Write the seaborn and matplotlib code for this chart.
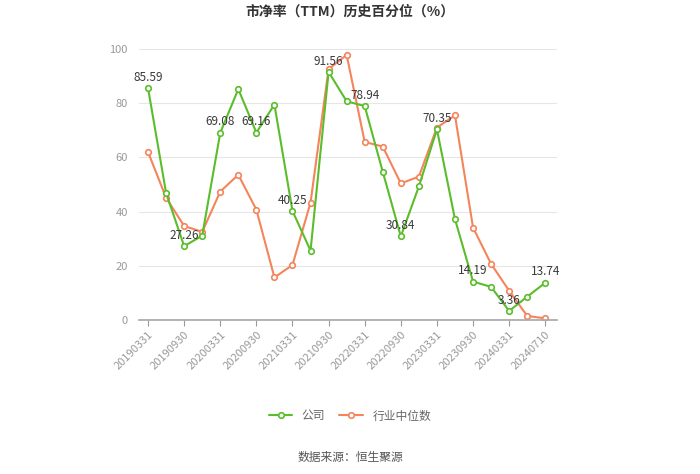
import numpy as np
import pandas as pd
import seaborn as sns
import matplotlib.pyplot as plt

dates = ["20190331", "20190630", "20190930", "20191231",
         "20200331", "20200630", "20200930", "20201231",
         "20210331", "20210630", "20210930", "20211231",
         "20220331", "20220630", "20220930", "20221231",
         "20230331", "20230630", "20230930", "20231231",
         "20240331", "20240630", "20240710"]
company = [85.59, 46.9, 27.26, 31.1, 69.08, 85.2, 69.16, 79.5,
           40.25, 25.6, 91.56, 80.7, 78.94, 54.7, 30.84, 49.3,
           70.35, 37.2, 14.19, 12.2, 3.36, 8.6, 13.74]
industry = [62.0, 45.1, 34.7, 32.5, 47.4, 53.6, 40.7, 15.7,
            20.3, 43.3, 92.6, 97.8, 65.7, 64.0, 50.4, 52.9,
            71.0, 75.5, 34.1, 20.7, 10.8, 1.5, 0.6]
labeled = [0, 2, 4, 6, 8, 10, 12, 14, 16, 18, 20, 22]

green = "#5bbd2b"
orange = "#f4845c"

sns.set_theme(style="white")
plt.rcParams['font.family'] = ['Noto Sans CJK SC', 'DejaVu Sans']

df = pd.DataFrame({"idx": np.arange(len(dates)), "company": company, "industry": industry})

fig = plt.figure(figsize=(7, 4.74), dpi=100)
ax = fig.add_axes([139 / 700, 1 - 320 / 474, (557 - 139) / 700, (320 - 49) / 474])

mk = dict(marker="o", markersize=4, markerfacecolor="white", markeredgewidth=1.2, linewidth=1.5)
sns.lineplot(data=df, x="idx", y="industry", color=orange, markeredgecolor=orange, ax=ax, label="行业中位数", **mk)
sns.lineplot(data=df, x="idx", y="company", color=green, markeredgecolor=green, ax=ax, label="公司", **mk)

for i in labeled:
    ax.text(i, company[i] + 1.6, f"{company[i]:.2f}", ha="center", va="bottom",
            fontsize=8.5, color="#3a3a3a")

ax.set_xlim(-0.5, 22.65)
ax.set_ylim(0, 100)
ax.set_yticks([0, 20, 40, 60, 80, 100])
ax.set_xticks(labeled)
ax.set_xticklabels([dates[i] for i in labeled], rotation=45, ha="right", rotation_mode="anchor")
ax.set_xlabel("")
ax.set_ylabel("")
ax.grid(axis="y", color="#e6e6e6", linewidth=0.8)
ax.set_axisbelow(True)
for s in ["top", "right", "left"]:
    ax.spines[s].set_visible(False)
ax.spines["bottom"].set_color("#aaaaaa")
ax.tick_params(axis="x", colors="#999999", labelsize=8, length=4, width=0.8, bottom=True, pad=3)
ax.tick_params(axis="y", colors="#999999", labelsize=8, length=0, pad=8)

ax.legend_.remove()
handles, labels = ax.get_legend_handles_labels()
fig.legend(handles[::-1], labels[::-1], loc="center", bbox_to_anchor=(0.5, 1 - 416 / 474),
           ncol=2, frameon=False, fontsize=8.5, handlelength=2.0, columnspacing=1.2,
           labelcolor="#666666")

fig.text(0.5, 1 - 12 / 474, "市净率（TTM）历史百分位（%）", ha="center", va="center",
         fontsize=10, fontweight="bold", color="#333333")
fig.text(0.5, 1 - 457 / 474, "数据来源：恒生聚源", ha="center", va="center",
         fontsize=8.5, color="#555555")

fig.savefig("out.png", dpi=100)
